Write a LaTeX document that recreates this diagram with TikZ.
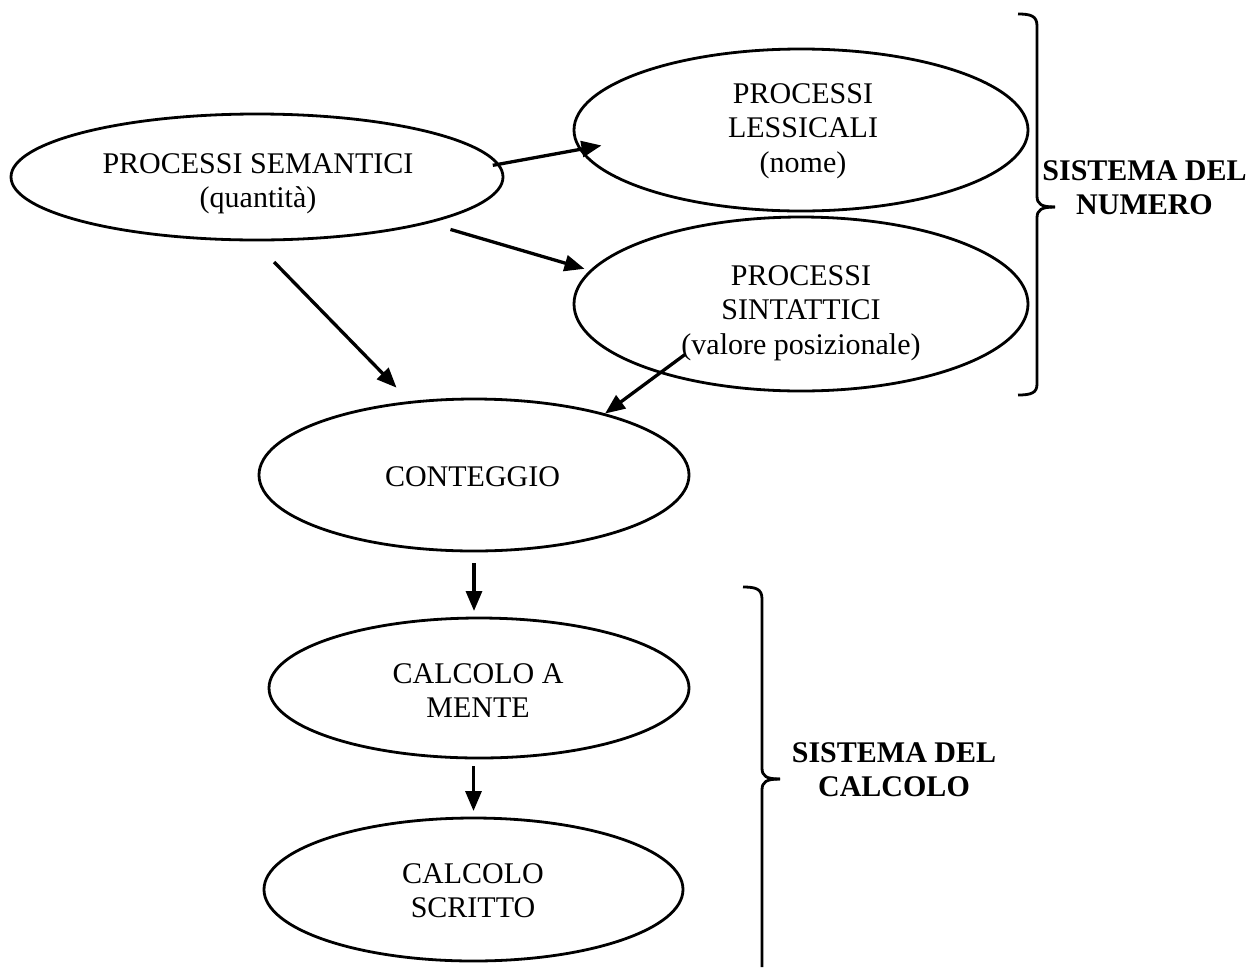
\documentclass[tikz,border=0pt]{standalone}
\usepackage{fontspec}
\setmainfont{Liberation Serif}
\usetikzlibrary{shapes.geometric,arrows.meta}
\begin{document}
\begin{tikzpicture}[x=1pt,y=-1pt,
  ell/.style={draw, ellipse, line width=2.8pt, inner sep=0pt, outer sep=0pt},
  txt/.style={font=\fontsize{30}{34.5}\selectfont, align=center, inner sep=0pt, anchor=north},
  btxt/.style={txt, font=\fontsize{30}{34.5}\selectfont\bfseries},
  arr/.style={line width=3.3pt, -{Triangle[length=20pt,width=16pt]}},
  brc/.style={line width=2.8pt}]
\useasboundingbox (0,0) rectangle (1247,967);

% ellipses
\node[ell, minimum width=492pt, minimum height=126pt] (sem) at (257,177) {};
\node[ell, minimum width=454pt, minimum height=162pt] (lex) at (801,130) {};
\node[ell, minimum width=454pt, minimum height=174pt] (syn) at (801,304) {};
\node[ell, minimum width=430pt, minimum height=152pt] (cnt) at (474,475) {};
\node[ell, minimum width=420pt, minimum height=140pt] (men) at (479,688) {};
\node[ell, minimum width=419pt, minimum height=143pt] (scr) at (473.5,889.5) {};

% texts
\node[txt] (semT) at (258,153) {PROCESSI SEMANTICI\\(quantità)};
\node[txt] (lexT) at (803,83) {PROCESSI\\LESSICALI\\(nome)};
\node[txt] (synT) at (801,265) {PROCESSI\\SINTATTICI\\(valore posizionale)};
\node[txt] (cntT) at (472.5,466) {CONTEGGIO};
\node[txt] (menT) at (478,663) {CALCOLO A\\MENTE};
\node[txt] (scrT) at (473,863) {CALCOLO\\SCRITTO};
\node[btxt] (numT) at (1144.5,160) {SISTEMA DEL\\NUMERO};
\node[btxt] (calT) at (894,742) {SISTEMA DEL\\CALCOLO};

% arrows
\draw[arr, shorten <=-5.3pt, shorten >=-21.3pt] (sem.3.7) -- (lex.185.8);
\draw[arr, shorten <=24.5pt, shorten >=7pt] (sem.-15) -- (syn.171.1);
\draw[arr, shorten <=30.75pt, shorten >=20.5pt] (sem.-94.9) -- (cnt.131.9);
\draw[arr, shorten <=-30.3pt, shorten >=1.4pt] (syn.206.9) -- (cnt.25.1);
\draw[arr, shorten <=12pt, shorten >=7pt] (cnt.south) -- (cnt.south |- men.north);
\draw[arr, shorten <=8pt, shorten >=7pt] (men.south -| scr.north) -- (scr.north);

% braces
\draw[brc] (1018,14) .. controls (1031,14) and (1037,16) .. (1037,26) -- (1037,196) .. controls (1037,204) and (1041,207) .. (1055,207);
\draw[brc] (1055,207) .. controls (1041,207) and (1037,210) .. (1037,218) -- (1037,384) .. controls (1037,393) and (1031,395) .. (1018,395);
\draw[brc] (743,587) .. controls (756,587) and (762,589) .. (762,599) -- (762,768) .. controls (762,776) and (766,779) .. (780,779);
\draw[brc] (780,779) .. controls (766,779) and (762,782) .. (762,790) -- (762,967);
\end{tikzpicture}
\end{document}
